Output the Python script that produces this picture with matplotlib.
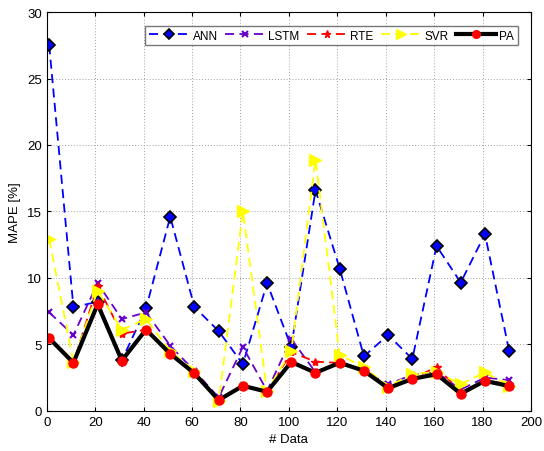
import matplotlib
matplotlib.use("Agg")
import matplotlib.pyplot as plt

plt.rcParams['font.family'] = ['Liberation Sans', 'DejaVu Sans']

x = [1, 11, 21, 31, 41, 51, 61, 71, 81, 91, 101, 111, 121, 131, 141, 151, 161, 171, 181, 191]
ann = [27.5, 7.8, 8.2, 3.8, 7.7, 14.6, 7.8, 6.0, 3.5, 9.6, 4.8, 16.6, 10.7, 4.1, 5.7, 3.9, 12.4, 9.65, 13.3, 4.5]
lstm = [7.4, 5.7, 9.6, 6.9, 7.4, 4.9, 3.0, 1.0, 4.8, 1.5, 5.4, 2.9, 3.6, 3.0, 2.0, 2.7, 2.9, 1.6, 2.5, 2.3]
rte = [5.5, 3.6, 9.4, 5.8, 6.1, 4.3, 2.8, 0.9, 1.9, 1.4, 4.4, 3.7, 3.6, 3.0, 1.8, 2.4, 3.3, 1.4, 2.3, 2.0]
svr = [12.9, 3.7, 9.05, 6.1, 6.9, 4.5, 3.0, 0.7, 15.0, 1.5, 4.5, 18.9, 4.2, 3.3, 1.8, 2.8, 2.9, 2.0, 2.9, 1.9]
pa = [5.46, 3.61, 8.02, 3.78, 6.11, 4.29, 2.81, 0.8, 1.88, 1.43, 3.67, 2.86, 3.61, 3.01, 1.7, 2.4, 2.75, 1.28, 2.25, 1.86]

fig = plt.figure(figsize=(5.44, 4.52), dpi=100)
ax = fig.add_axes([0.086, 0.089, 0.89, 0.882])

ax.plot(x, ann, '--', color='#0000ff', lw=1.3, marker='D', ms=6,
        mfc='#0000ff', mec='black', mew=1.2, label='ANN', dashes=(5, 3))
ax.plot(x, lstm, '--', color='#6600cc', lw=1.3, marker='x', ms=5,
        mew=1.5, label='LSTM', dashes=(5, 3))
ax.plot(x, rte, '--', color='#ff0000', lw=1.3, marker='*', ms=6,
        mfc='#ff0000', mec='#ff0000', label='RTE', dashes=(5, 3))
ax.plot(x, svr, '--', color='#ffff00', lw=1.3, marker='>', ms=8,
        mfc='#ffff00', mec='#ffff00', label='SVR', dashes=(5, 3))
ax.plot(x, pa, '-', color='black', lw=3, marker='o', ms=6.5,
        mfc='#ff0000', mec='#ff0000', label='PA')

ax.set_xlim(0, 200)
ax.set_ylim(0, 30)
ax.set_xticks(range(0, 201, 20))
ax.set_yticks(range(0, 31, 5))
ax.tick_params(direction='in', top=True, right=True, labelsize=9.5, length=3)
ax.grid(True, linestyle=(0, (1, 2)), color='#a0a0a0', lw=0.7)
ax.set_xlabel('# Data', fontsize=9.5)
ax.set_ylabel('MAPE [%]', fontsize=9.5)

ax.legend(loc='upper right', ncol=5, fontsize=8.5, frameon=True, fancybox=False,
          edgecolor='#555555', handlelength=3.4, columnspacing=0.6, handletextpad=0.3,
          borderpad=0.3, markerscale=0.85, bbox_to_anchor=(0.985, 0.98))

fig.savefig('out.png', dpi=100)
